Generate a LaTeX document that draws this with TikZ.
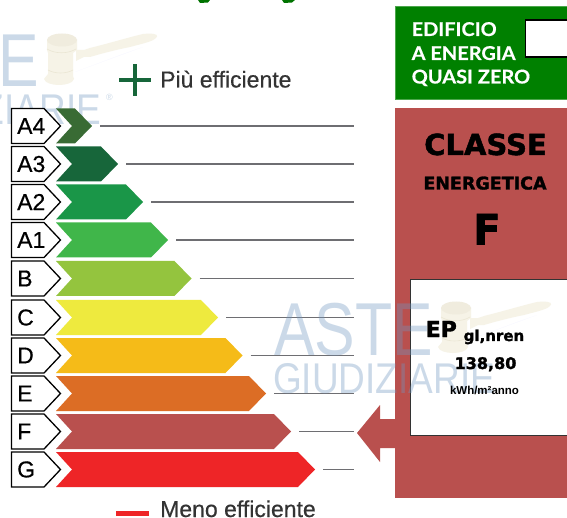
\documentclass[tikz,border=0pt]{standalone}
\usepackage{graphicx}
\usepackage{fontspec}
\setmainfont{Liberation Sans}
\newfontfamily\heavy{DejaVu Sans Bold}[FakeBold=1.6]
\newfontfamily\midbold{Liberation Sans}[FakeBold=.5]
\newfontfamily\lato{Lato Bold}[FakeBold=.4]
\usetikzlibrary{calc}
\definecolor{cFa}{HTML}{396B34}\definecolor{cTa}{HTML}{17663A}\definecolor{cDa}{HTML}{1A9648}
\definecolor{cUa}{HTML}{40B64A}\definecolor{cB}{HTML}{94C43E}\definecolor{cC}{HTML}{EEEA3E}
\definecolor{cD}{HTML}{F5BB18}\definecolor{cE}{HTML}{DC6D25}\definecolor{cF}{HTML}{B9504E}
\definecolor{cG}{HTML}{EE2527}\definecolor{rule}{HTML}{6E6E72}\definecolor{mark}{HTML}{6F96C0}
\definecolor{ivory}{HTML}{F6F3E7}\definecolor{ivoryd}{HTML}{EAE6D4}\definecolor{boxgreen}{HTML}{008000}
\tikzset{
  tag/.style={draw=black,line width=1.3pt,fill=white,line join=miter},
  leader/.style={draw=rule,line width=1.5pt},
  taglabel/.style={anchor=west,font=\midbold\fontsize{23}{23}\selectfont,inner sep=0pt},
  classtext/.style={text=black,inner sep=0pt,anchor=base},
  legend/.style={anchor=base west,inner sep=0pt,text=black!80,font=\midbold\fontsize{23}{23}\selectfont},
  greentext/.style={anchor=base west,text=white,inner sep=0pt,font=\lato\fontsize{19}{19}\selectfont},
  wm/.style={text=mark,opacity=.36,inner sep=0pt,anchor=base west}
}
\newcommand{\gavelmark}[2]{%
\begin{scope}[shift={(#1,#2)}]
  \fill[blue!30!white,opacity=.12] (75,72)--(143,47)--(123,54)--cycle;
  \fill[ivory] (76,50)--(84,50)--(90,48) .. controls (110,43) and (130,37) .. (143,34) .. controls (152,33) and (158,34) .. (157,36.5) .. controls (155,41) and (145,43) .. (130,47) .. controls (115,50) and (100,54) .. (90,57)--(84,57)--(76,61)--cycle;
  \fill[ivory] (47,40)--(77,40)--(77,50)--(73,53)--(73,76)--(74,79) .. controls (72,87) and (46,87) .. (44,79)--(48,74)--(48,53)--(47,50)--cycle;
  \fill[ivoryd!50!ivory] (62,40) ellipse (15 and 6.5);
  \draw[ivoryd,line width=.6pt] (47,49) .. controls (55,54) and (68,54) .. (76,49);
  \draw[ivoryd,line width=.6pt] (48,70) .. controls (55,74) and (66,74) .. (73,70);
\end{scope}}
\newcommand{\textmark}[2]{%
\begin{scope}[shift={(#1,#2)}]
  \node[wm] (aste#1) at (-120,87) {\scalebox{.81}[1]{\fontsize{75}{75}\selectfont ASTE}};
  \node[wm] (giud#1) at (-121,125) {\scalebox{.86}[1]{\fontsize{43}{43}\selectfont GIUDIZIARIE}};
  \node[wm] (reg#1) at (106,101) {\fontsize{9}{9}\selectfont ®};
\end{scope}}
\begin{document}
\begin{tikzpicture}[x=1pt,y=-1pt]
\useasboundingbox (0,0) rectangle (567,518);
\clip (0,0) rectangle (567,518);
\fill[white] (0,0) rectangle (567,518);
% clipped heading
\fill[green!45!black] (198,0)--(210,0)--(208,2.5)--(200,3)--cycle;
\fill[green!45!black] (282,0)--(295,0)--(292,2.5)--(284,3)--cycle;
% first watermark lies under the scale
\gavelmark{0}{0}
\textmark{0}{0}
% right panels
\node[fill=boxgreen,draw=green!50!black!70,line width=.5pt,minimum width=172pt,minimum height=93pt,anchor=north west,inner sep=0pt] (greenbox) at (395,6) {};
\node[draw=black,line width=1.2pt,fill=white,minimum width=45pt,minimum height=37pt,anchor=north west,inner sep=0pt] (check) at (524.5,19.5) {};
\node[fill=cF,minimum width=172pt,minimum height=390pt,anchor=north west,inner sep=0pt] (redbox) at (395,108) {};
\node[draw=black!80,line width=.7pt,fill=white,minimum width=157pt,minimum height=155.5pt,anchor=north west,inner sep=0pt] (epbox) at (409.5,279.5) {};
\coordinate (tip) at (357,433);
\fill[cF] (tip)--(380,405)--(380,419)--(396,419)--(396,448)--(380,448)--(380,462)--cycle;
% bars
\foreach \nm/\lab/\col/\top/\tipx in {Aq/A4/cFa/108.5/92,At/A3/cTa/146.5/118,Ad/A2/cDa/184.5/143,Au/A1/cUa/222.5/168,Bb/B/cB/261/191.5,Cc/C/cC/300/218,Dd/D/cD/338/242.5,Ee/E/cE/376/266,Ff/F/cF/414/291,Gg/G/cG/452/315}{
  \pgfmathsetmacro{\mid}{\top+17.5}
  \pgfmathsetmacro{\bot}{\top+35}
  \pgfmathsetmacro{\sh}{\tipx-17}
  \fill[\col] (56,\top)--(\sh,\top)--(\tipx,\mid)--(\sh,\bot)--(56,\bot)--(72,\mid)--cycle;
  \draw[tag] (11.5,\top)--(44,\top)--(60.5,\mid)--(44,\bot)--(11.5,\bot)--cycle;
  \node[taglabel] (lab\nm) at (17,\mid) {\lab};
  \coordinate (start\nm) at (\tipx+8,\mid);
  \coordinate (end\nm) at (354,\mid);
  \draw[leader] (start\nm)--(end\nm);
}
% second watermark lies over the panels
\gavelmark{394}{268}
\textmark{394}{268}
% legend
\fill[cTa] (119,77.7) rectangle (151,82.3);
\fill[cTa] (132.7,64) rectangle (137.3,96.5);
\node[legend] (plus) at (160,87.5) {Più efficiente};
\fill[cG] (116,510.5) rectangle (149,515.5);
\node[legend] (minus) at (160,517) {Meno efficiente};
% panel text
\node[greentext] (zeroa) at (411.5,36) {\scalebox{1.05}[1]{EDIFICIO}};
\node[greentext] (zerob) at (411.5,60) {\scalebox{1.05}[1]{A ENERGIA}};
\node[greentext] (zeroc) at (411.5,83.5) {\scalebox{1.05}[1]{QUASI ZERO}};
\node[classtext,font=\heavy\fontsize{29}{29}\selectfont] (classe) at (485.5,155) {CLASSE};
\node[classtext,font=\heavy\fontsize{17.5}{17.5}\selectfont] (energetica) at (485,189.5) {ENERGETICA};
\node[classtext,font=\heavy\fontsize{42}{42}\selectfont] (klass) at (487,244.5) {\scalebox{.95}[1]{F}};
\node[classtext,anchor=base west,font=\heavy\fontsize{22}{22}\selectfont] (ep) at (425.5,337) {EP};
\node[classtext,anchor=base west,font=\heavy\fontsize{15}{15}\selectfont] (gl) at (463.5,341) {gl,nren};
\node[classtext,font=\heavy\fontsize{16}{16}\selectfont] (val) at (485.5,369) {138,80};
\node[anchor=base,inner sep=0pt,font=\bfseries\fontsize{11.5}{11.5}\selectfont] (unit) at (484.5,394) {kWh/m²anno};
\end{tikzpicture}
\end{document}
